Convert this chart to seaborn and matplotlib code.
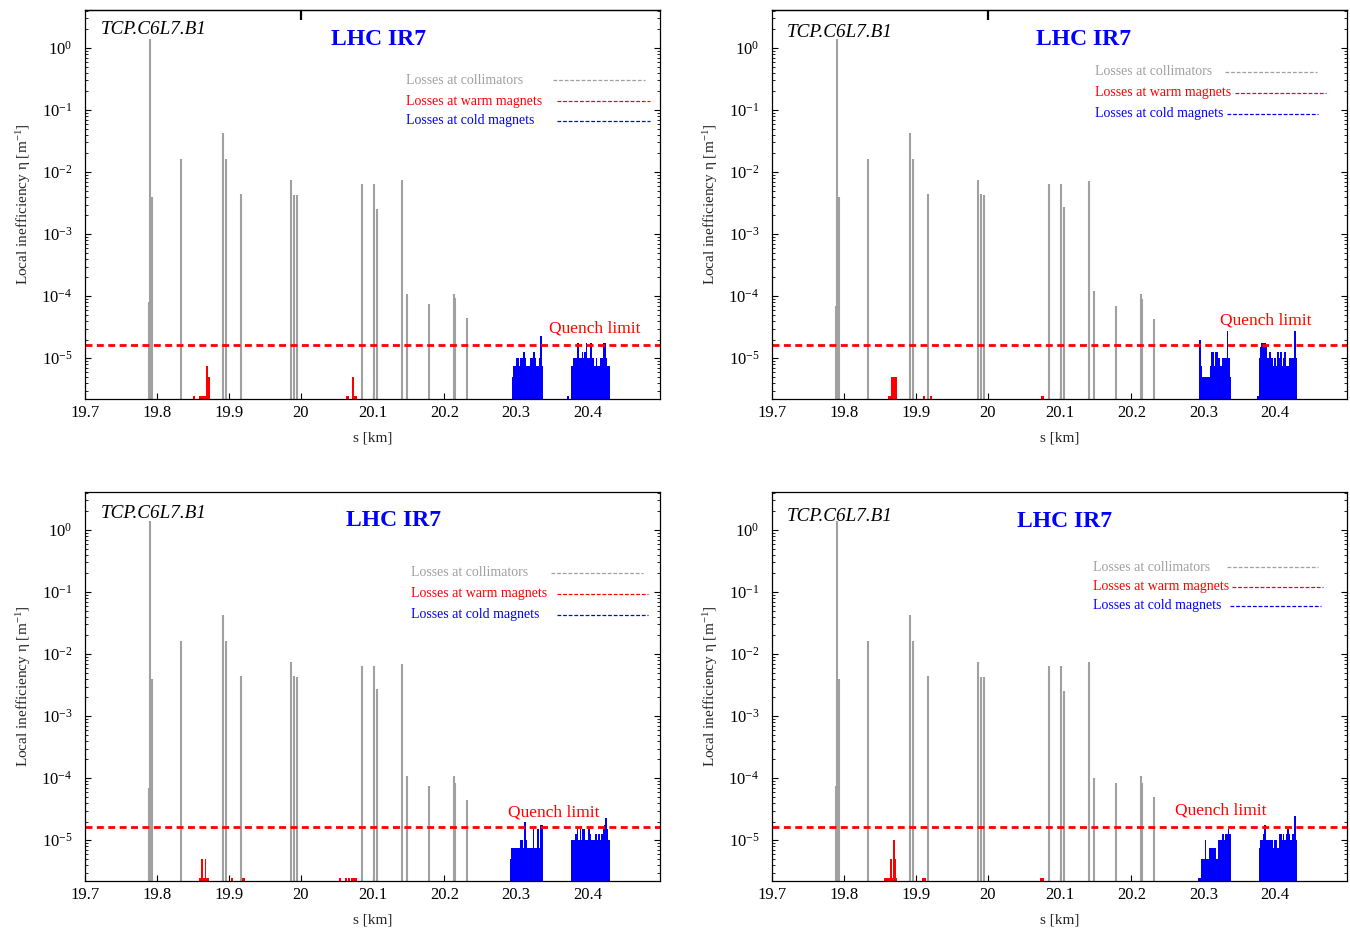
import numpy as np
import matplotlib
matplotlib.use("Agg")
import matplotlib.pyplot as plt
from matplotlib.lines import Line2D
from matplotlib.ticker import LogLocator, FixedLocator, FixedFormatter, FuncFormatter, NullFormatter
import seaborn as sns

# ---------------- data ----------------
S_TICKS = [19.7, 19.8, 19.9, 20.0, 20.1, 20.2, 20.3, 20.4]
S_TICK_LABELS = ["19.7", "19.8", "19.9", "20", "20.1", "20.2", "20.3", "20.4"]
ETA_TICKS = [1e-5, 1e-4, 1e-3, 1e-2, 1e-1, 1e0]
S_RANGE = (19.7, 20.5)
ETA_RANGE = (2.2e-6, 4.1)
Q_LIMIT = 1.65e-5
ETA_UNIT = 2.5e-6          # one lost particle per bin -> local inefficiency
BIN_KM = 0.002             # bin width of magnet losses

# collimator positions [km]
COLL_S = [19.789, 19.791, 19.793, 19.833, 19.892, 19.896, 19.917, 19.987, 19.991,
          19.995, 20.086, 20.102, 20.106, 20.141, 20.148, 20.179, 20.213, 20.215, 20.232]
COLL_ETA_TL = [8e-5, 1.4, 4e-3, 1.6e-2, 4.2e-2, 1.6e-2, 4.5e-3, 7.5e-3, 4.3e-3, 4.3e-3,
               6.5e-3, 6.5e-3, 2.5e-3, 7.5e-3, 1.1e-4, 7.5e-5, 1.1e-4, 9.5e-5, 4.5e-5]
COLL_ETA_TR = [7e-5, 1.4, 4e-3, 1.6e-2, 4.2e-2, 1.6e-2, 4.5e-3, 7.5e-3, 4.5e-3, 4.3e-3,
               6.5e-3, 6.5e-3, 2.7e-3, 7.2e-3, 1.2e-4, 7e-5, 1.1e-4, 9e-5, 4.3e-5]
COLL_ETA_BL = [7e-5, 1.4, 4e-3, 1.6e-2, 4.2e-2, 1.6e-2, 4.5e-3, 7.5e-3, 4.5e-3, 4.3e-3,
               6.5e-3, 6.5e-3, 2.7e-3, 7e-3, 1.1e-4, 7.5e-5, 1.1e-4, 8.5e-5, 4.5e-5]
COLL_ETA_BR = [7.5e-5, 1.4, 4e-3, 1.6e-2, 4.2e-2, 1.6e-2, 4.5e-3, 7.5e-3, 4.3e-3, 4.3e-3,
               6.5e-3, 6.5e-3, 2.5e-3, 7.5e-3, 1e-4, 8.5e-5, 1.1e-4, 8.5e-5, 5e-5]

# cold magnet losses: cluster start [km] and counts per bin
COLD_START_TL = [20.2935, 20.3710, 20.3768]
COLD_TL_A = [2, 3, 3, 4, 4, 3, 4, 4, 5, 4, 3, 3, 3, 4, 4, 5, 4, 3, 3, 4, 9, 3]
COLD_TL_S = [1]
COLD_TL_B = [3, 4, 4, 4, 7, 4, 4, 5, 4, 5, 7, 4, 4, 7, 4, 4, 3, 4, 3, 3, 4, 4, 7, 7, 4, 3, 3]

COLD_START_TR = [20.2947, 20.3749, 20.3769]
COLD_TR_A = [8, 3, 2, 2, 2, 2, 2, 3, 5, 5, 3, 5, 5, 4, 3, 3, 4, 4, 4, 11, 4, 2]
COLD_TR_S = [1]
COLD_TR_B = [4, 6, 7, 7, 7, 6, 4, 5, 5, 4, 3, 4, 3, 5, 4, 5, 3, 4, 5, 3, 3, 4, 4, 4, 4, 11, 4]

COLD_START_BL = [20.2912, 20.3760]
COLD_BL_A = [2, 3, 3, 3, 3, 3, 3, 4, 4, 3, 8, 4, 3, 3, 3, 3, 6, 3, 3, 6, 3, 7, 7]
COLD_BL_B = [4, 4, 4, 5, 6, 4, 6, 4, 6, 6, 4, 4, 6, 5, 4, 4, 4, 5, 4, 5, 4, 5, 6, 7, 9, 6, 4]

COLD_START_BR = [20.2924, 20.3769]
COLD_BR_A = [1, 1, 2, 2, 2, 4, 2, 2, 3, 3, 3, 3, 3, 2, 4, 4, 4, 5, 4, 5, 5, 6, 5]
COLD_BR_B = [3, 4, 4, 5, 7, 4, 4, 4, 4, 4, 3, 4, 4, 3, 5, 5, 4, 5, 4, 5, 6, 5, 4, 5, 5, 10, 4]

# warm magnet losses: segment left / right [km] and counts
WARM_TL_L = [19.8496, 19.8580, 19.8680, 19.8710, 20.0635, 20.0710, 20.0746]
WARM_TL_R = [19.8524, 19.8680, 19.8710, 19.8736, 20.0670, 20.0746, 20.0785]
WARM_TL_N = [1, 1, 3, 2, 1, 2, 1]

WARM_TR_L = [19.8620, 19.8660, 19.9107, 19.9200, 20.0740]
WARM_TR_R = [19.8660, 19.8737, 19.9135, 19.9228, 20.0788]
WARM_TR_N = [1, 2, 1, 1, 1]

WARM_BL_L = [19.8580, 19.8620, 19.8640, 19.8670, 19.8690, 19.9030, 19.9190, 20.0530, 20.0620, 20.0660, 20.0700]
WARM_BL_R = [19.8620, 19.8640, 19.8670, 19.8690, 19.8725, 19.9060, 19.9220, 20.0560, 20.0650, 20.0690, 20.0790]
WARM_BL_N = [1, 2, 1, 2, 1, 1, 1, 1, 1, 1, 1]

WARM_BR_L = [19.8560, 19.8640, 19.8665, 19.8680, 19.8705, 19.8725, 19.9090, 20.0733]
WARM_BR_R = [19.8640, 19.8665, 19.8680, 19.8705, 19.8725, 19.8740, 19.9140, 20.0790]
WARM_BR_N = [1, 2, 1, 4, 2, 1, 1, 1]

LEGEND_LABELS = ["Losses at collimators", "Losses at warm magnets", "Losses at cold magnets"]
C_COLL, C_WARM, C_COLD = "#a0a0a0", "#ff0000", "#0000ff"

# ---------------- layout per panel ----------------
W, H = 1350, 933
PANELS = [
    dict(box=(85, 10, 660, 399), coll=COLL_ETA_TL,
         cold=(COLD_START_TL, [COLD_TL_A, COLD_TL_S, COLD_TL_B]),
         warm=(WARM_TL_L, WARM_TL_R, WARM_TL_N),
         tcp=(0.028, 0.949), title=(0.511, 0.923), quench=(0.887, 0.182),
         leg_x=0.558, leg_y=[0.820, 0.766, 0.715],
         leg_lines=[(0.814, 0.974), (0.821, 0.983), (0.821, 0.983)], toptick=True),
    dict(box=(772, 10, 1347, 399), coll=COLL_ETA_TR,
         cold=(COLD_START_TR, [COLD_TR_A, COLD_TR_S, COLD_TR_B]),
         warm=(WARM_TR_L, WARM_TR_R, WARM_TR_N),
         tcp=(0.026, 0.943), title=(0.541, 0.923), quench=(0.859, 0.203),
         leg_x=0.562, leg_y=[0.841, 0.787, 0.733],
         leg_lines=[(0.788, 0.948), (0.805, 0.963), (0.791, 0.950)], toptick=True),
    dict(box=(85, 492, 660, 881), coll=COLL_ETA_BL,
         cold=(COLD_START_BL, [COLD_BL_A, COLD_BL_B]),
         warm=(WARM_BL_L, WARM_BL_R, WARM_BL_N),
         tcp=(0.028, 0.946), title=(0.537, 0.928), quench=(0.816, 0.175),
         leg_x=0.567, leg_y=[0.792, 0.738, 0.684],
         leg_lines=[(0.810, 0.970), (0.821, 0.979), (0.821, 0.979)], toptick=False),
    dict(box=(772, 492, 1347, 881), coll=COLL_ETA_BR,
         cold=(COLD_START_BR, [COLD_BR_A, COLD_BR_B]),
         warm=(WARM_BR_L, WARM_BR_R, WARM_BR_N),
         tcp=(0.026, 0.938), title=(0.508, 0.923), quench=(0.781, 0.180),
         leg_x=0.558, leg_y=[0.807, 0.756, 0.707],
         leg_lines=[(0.791, 0.950), (0.800, 0.958), (0.797, 0.955)], toptick=False),
]

sns.set_theme(style="ticks")
plt.rcParams["font.family"] = ["Liberation Serif", "DejaVu Serif"]
plt.rcParams["mathtext.fontset"] = "custom"
plt.rcParams["mathtext.rm"] = "Liberation Serif"
plt.rcParams["mathtext.it"] = "Liberation Serif:italic"
plt.rcParams["mathtext.bf"] = "Liberation Serif:bold"
plt.rcParams["axes.linewidth"] = 0.9
plt.rcParams["axes.edgecolor"] = "black"


def segments_to_hist(lefts, rights, counts):
    edges = [lefts[0]]
    centers, weights = [], []
    for l, r, n in zip(lefts, rights, counts):
        if l > edges[-1] + 1e-9:
            centers.append(0.5 * (edges[-1] + l))
            weights.append(0.0)
            edges.append(l)
        centers.append(0.5 * (l + r))
        weights.append(n * ETA_UNIT)
        edges.append(r)
    return centers, weights, edges


def draw_hist(ax, lefts, rights, counts, color):
    centers, weights, edges = segments_to_hist(lefts, rights, counts)
    sns.histplot(x=centers, weights=weights, bins=edges, element="step", fill=True,
                 color=color, alpha=1.0, linewidth=0, ax=ax)


def sci_label(v, pos):
    e = int(round(np.log10(v)))
    return r"$\mathregular{10^{%d}}$" % e


fig = plt.figure(figsize=(W / 100, H / 100), dpi=100)

for p in PANELS:
    x0, y0, x1, y1 = p["box"]
    ax = fig.add_axes([x0 / W, 1 - y1 / H, (x1 - x0) / W, (y1 - y0) / H])
    ax.set_yscale("log")

    # collimators
    ax.vlines(COLL_S, ETA_RANGE[0], p["coll"], color=C_COLL, lw=1.5)

    # warm magnets
    wl, wr, wn = p["warm"]
    draw_hist(ax, wl, wr, wn, C_WARM)

    # cold magnets
    starts, blocks = p["cold"]
    lefts, rights, counts = [], [], []
    for st, blk in zip(starts, blocks):
        for i, n in enumerate(blk):
            lefts.append(st + i * BIN_KM)
            rights.append(st + (i + 1) * BIN_KM)
            counts.append(n)
    draw_hist(ax, lefts, rights, counts, C_COLD)

    # quench limit
    ax.axhline(Q_LIMIT, color=C_WARM, lw=2, ls=(0, (2.5, 1.6)))

    ax.set_xlim(*S_RANGE)
    ax.set_ylim(*ETA_RANGE)
    ax.xaxis.set_major_locator(FixedLocator(S_TICKS))
    ax.xaxis.set_major_formatter(FixedFormatter(S_TICK_LABELS))
    ax.yaxis.set_major_locator(FixedLocator(ETA_TICKS))
    ax.yaxis.set_major_formatter(FuncFormatter(sci_label))
    ax.yaxis.set_minor_locator(LogLocator(base=10, subs=np.arange(2, 10), numticks=20))
    ax.yaxis.set_minor_formatter(NullFormatter())
    ax.tick_params(axis="x", which="major", direction="in", length=4.5, width=0.8,
                   labelsize=12, pad=4, top=False, bottom=True, colors="black")
    ax.tick_params(axis="y", which="major", direction="in", length=4.5, width=0.8,
                   labelsize=12, pad=9, left=True, right=True, colors="black")
    ax.tick_params(axis="y", which="minor", direction="in", length=2.5, width=0.6,
                   left=True, right=True, colors="black")
    for sp in ax.spines.values():
        sp.set_visible(True)
        sp.set_color("black")

    ax.set_xlabel("s [km]", fontsize=11, labelpad=8)
    ax.set_ylabel(r"Local inefficiency η [m$^{-1}$]", fontsize=11, labelpad=6)

    if p["toptick"]:
        sec = ax.secondary_xaxis("top")
        sec.set_xticks([20.0])
        sec.set_xticklabels([""])
        sec.tick_params(direction="in", length=7, width=1.6, colors="black")

    ax.text(*p["tcp"], "TCP.C6L7.B1", transform=ax.transAxes, fontsize=13.8,
            fontstyle="italic", ha="left", va="center", color="black")
    ax.text(*p["title"], "LHC IR7", transform=ax.transAxes, fontsize=17,
            fontweight="bold", ha="center", va="center", color=C_COLD)
    ax.text(*p["quench"], "Quench limit", transform=ax.transAxes, fontsize=12.5,
            ha="center", va="center", color=C_WARM)

    # key: coloured label text followed by a dashed sample line
    colors = [C_COLL, C_WARM, C_COLD]
    for lab, c, ly, (lx0, lx1) in zip(LEGEND_LABELS, colors, p["leg_y"], p["leg_lines"]):
        ax.text(p["leg_x"], ly, lab, transform=ax.transAxes, fontsize=10,
                ha="left", va="center", color=c)
        ax.add_line(Line2D([lx0, lx1], [ly, ly], transform=ax.transAxes,
                           color=c, lw=0.9, ls=(0, (3, 1.5))))

fig.savefig("out.png", dpi=100)
